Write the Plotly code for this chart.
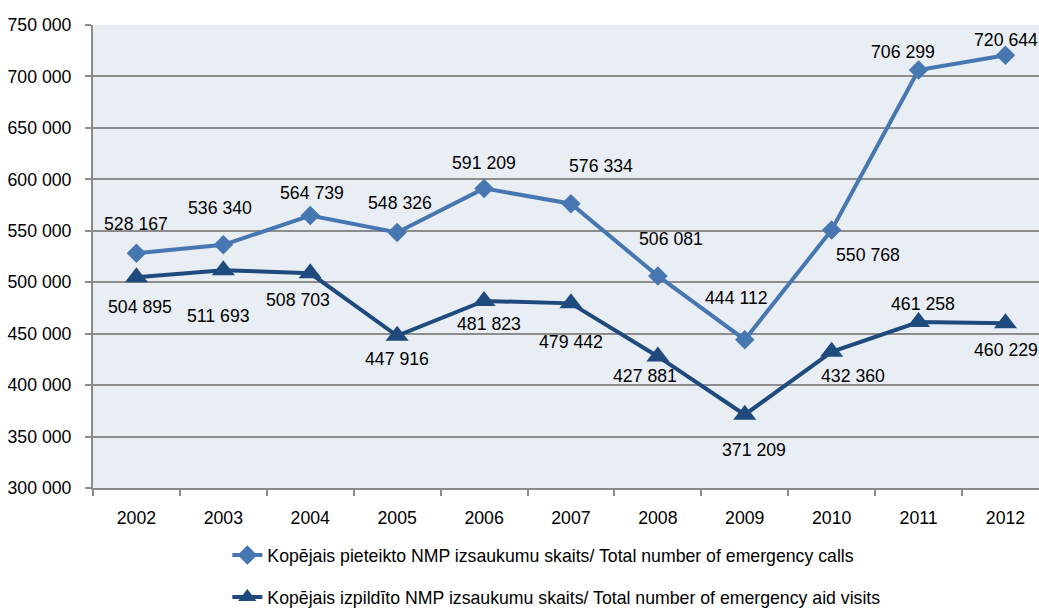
import plotly.graph_objects as go

years = ["2002", "2003", "2004", "2005", "2006", "2007", "2008", "2009", "2010", "2011", "2012"]
calls = [528167, 536340, 564739, 548326, 591209, 576334, 506081, 444112, 550768, 706299, 720644]
visits = [504895, 511693, 508703, 447916, 481823, 479442, 427881, 371209, 432360, 461258, 460229]
name_calls = "Kopējais pieteikto NMP izsaukumu skaits/ Total number of emergency calls"
name_visits = "Kopējais izpildīto NMP izsaukumu skaits/ Total number of emergency aid visits"

# label offsets (pixels) for data labels
calls_shift = [(0, 29), (-3, 37), (2, 23), (3, 30), (0, 25), (30, 38), (13, 37), (-8, 42), (36, -25), (-16, 18), (1, 15)]
visits_shift = [(4, -30), (-5, -46), (-12, -27), (0, -23), (5, -23), (0, -39), (-13, -20), (9, -35), (21, -24), (4, 18), (1, -27)]

FONT = "Liberation Sans, Arial, sans-serif"
FS = 17.7
C1 = "#4677B0"
C2 = "#1F4A7D"

fig = go.Figure()
fig.add_trace(go.Scatter(x=years, y=calls, name=name_calls, mode="lines+markers",
                         line=dict(color=C1, width=4),
                         marker=dict(symbol="diamond", size=15, color=C1),
                         cliponaxis=False, legendgroup="a"))
fig.add_trace(go.Scatter(x=years, y=visits, name=name_visits, mode="lines+markers",
                         line=dict(color=C2, width=4),
                         marker=dict(symbol="triangle-up", size=20, color=C2),
                         cliponaxis=False, legendgroup="b"))

def fmt(v):
    return f"{v:,}".replace(",", " ")

ann = []
for i, (v, (dx, dy)) in enumerate(zip(calls, calls_shift)):
    ann.append(dict(x=i, y=v, xref="x", yref="y", text=fmt(v), showarrow=False, xshift=dx, yshift=dy,
                    font=dict(family=FONT, size=FS, color="black")))
for i, (v, (dx, dy)) in enumerate(zip(visits, visits_shift)):
    ann.append(dict(x=i, y=v, xref="x", yref="y", text=fmt(v), showarrow=False, xshift=dx, yshift=dy,
                    font=dict(family=FONT, size=FS, color="black")))

fig.update_layout(
    width=1039, height=608,
    margin=dict(l=93, r=0, t=25, b=120, autoexpand=False),
    paper_bgcolor="white", plot_bgcolor="#E9EDF4",
    separators=", ",
    font=dict(family=FONT, size=FS, color="black"),
    annotations=ann,
    showlegend=True,
    legend=dict(x=0.142, xanchor="left", y=-0.106, yanchor="top",
                font=dict(family=FONT, size=FS, color="black"),
                tracegroupgap=16, traceorder="grouped", bgcolor="rgba(0,0,0,0)"),
)
fig.update_xaxes(type="category", range=[-0.5, 10.386], showgrid=False, automargin=False,
                 showline=True, linecolor="#8C8C8C", linewidth=2,
                 ticks="outside", tickson="boundaries", ticklen=6, tickcolor="#8C8C8C", tickwidth=2,
                 ticklabelstandoff=13,
                 tickfont=dict(family=FONT, size=FS, color="black"))
fig.update_yaxes(range=[300000, 750000], dtick=50000, tickformat=",d", automargin=False,
                 showgrid=True, gridcolor="#8C8C8C", gridwidth=2,
                 showline=True, linecolor="#8C8C8C", linewidth=2,
                 ticks="outside", ticklen=6, tickcolor="#8C8C8C", tickwidth=2,
                 ticklabelstandoff=10, zeroline=False,
                 tickfont=dict(family=FONT, size=FS, color="black"))

fig.write_html("out.html", config={"displayModeBar": False},
               post_script="document.body.style.margin='0';document.body.style.overflow='hidden';")
